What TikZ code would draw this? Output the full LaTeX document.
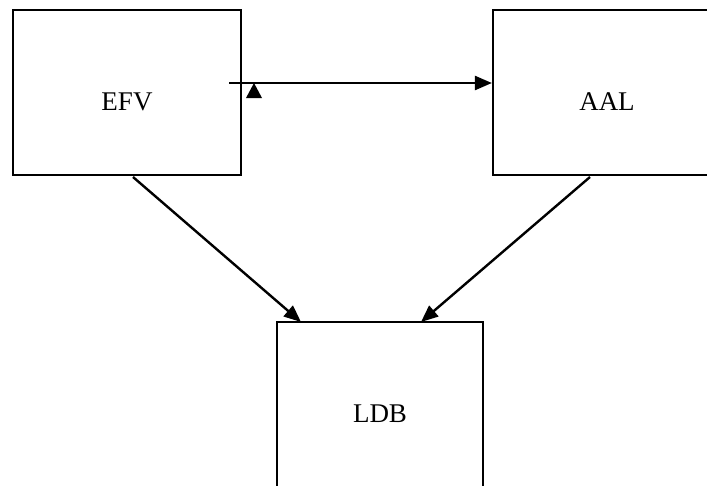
\documentclass[tikz,border=0pt]{standalone}
\usepackage{fontspec}
\setmainfont{Liberation Serif}
\usetikzlibrary{arrows.meta}
\begin{document}
\begin{tikzpicture}[x=1pt,y=-1pt,
  boxnode/.style={draw=black,line width=2.2pt,minimum width=228pt,minimum height=165pt,inner sep=0pt},
  lbl/.style={anchor=base,font=\fontsize{27}{30}\selectfont,inner sep=0pt},
  conn/.style={draw=black,line width=2.4pt,-{Triangle[length=17pt,width=14pt]}}]
\useasboundingbox (0,0) rectangle (707,485);
\fill[white] (0,0) rectangle (707,485);
\node[boxnode] (efv) at (127,92.5) {};
\node[boxnode] (aal) at (607,92.5) {};
\node[boxnode,minimum width=206pt] (ldb) at (380,404.5) {};
\node[lbl] (efvt) at (127,110) {EFV};
\node[lbl] (aalt) at (607,110) {AAL};
\node[lbl] (ldbt) at (380,422) {LDB};
\coordinate (hs) at (229,83);
\coordinate (d1s) at (133,177);
\coordinate (d1e) at (301,322);
\coordinate (d2s) at (590,177);
\coordinate (d2e) at (421,322);
\draw[conn] (hs) -- (aal.west |- hs);
\draw[conn] (d1s) -- (d1e);
\draw[conn] (d2s) -- (d2e);
\fill[black] (254,83) -- (262,98) -- (246,98) -- cycle;
\end{tikzpicture}
\end{document}
